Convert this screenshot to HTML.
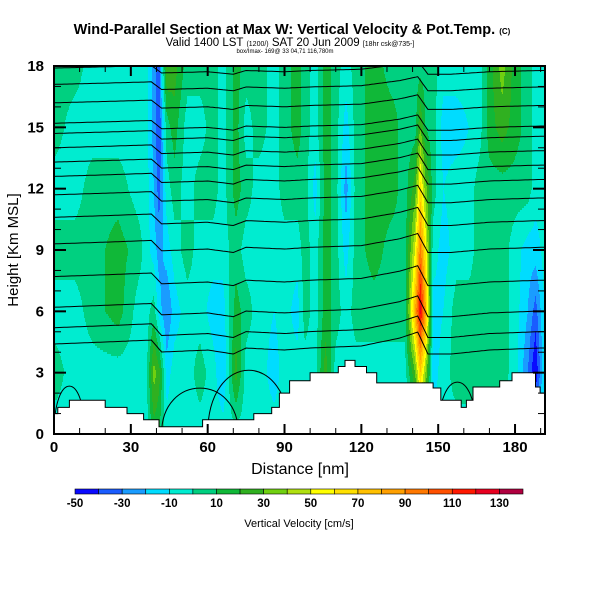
<!DOCTYPE html>
<html><head><meta charset="utf-8"><style>
body{margin:0;background:#fff;width:600px;height:600px;overflow:hidden;font-family:"Liberation Sans",sans-serif}
svg text{font-family:"Liberation Sans",sans-serif}
</style></head><body>
<svg id="c" width="600" height="600" xmlns="http://www.w3.org/2000/svg">
<text x="292" y="34" text-anchor="middle" font-size="14.5" font-weight="bold">Wind-Parallel Section at Max W: Vertical Velocity &amp; Pot.Temp. <tspan font-size="8">(C)</tspan></text>
<text x="290" y="46" text-anchor="middle" font-size="11.5">Valid 1400 LST <tspan font-size="7">(1200/)</tspan> SAT 20 Jun 2009 <tspan font-size="7">[18hr csk@735-]</tspan></text>
<text x="285" y="53" text-anchor="middle" font-size="6">box/Imax- 169@ 33 04,71 116,780m</text>
<defs><clipPath id="pc"><rect x="54" y="66" width="491" height="368"/></clipPath></defs>
<g id="field" clip-path="url(#pc)"></g>
<g id="contours" clip-path="url(#pc)" fill="none" stroke="#000" stroke-width="1"></g>
<g id="terrain" clip-path="url(#pc)"></g>
<g id="axes"></g>
<g id="cbar"></g>
<text x="18" y="250" transform="rotate(-90 18 250)" text-anchor="middle" font-size="15">Height [Km MSL]</text>
<text x="300" y="474" text-anchor="middle" font-size="16">Distance [nm]</text>
<text x="299" y="527" text-anchor="middle" font-size="11">Vertical Velocity [cm/s]</text>
</svg>
<script>
const rowH=[0,3,6,9,12,15,18];
const colX=[0,8,15,25,33,36,39,41,44,47,52,57,62,66,71,75,80,86,90,95,98,102,106,110,114,118,125,132,137,141,143,145,148,152,157,162,166,170,175,180,185,188,192];
const colW=[
[-5,5,-5,5,-5,5,5],[-5,-5,-5,5,-5,-5,5],[-5,-5,5,5,5,-5,-5],[-5,-5,15,15,5,-5,-5],[-5,-5,-5,5,-5,-5,-5],
[-5,-5,-5,-5,-5,-5,-5],[15,35,5,-15,-20,-25,-25],[10,25,-15,-25,-35,-40,-35],[-5,-15,-30,-15,-5,5,30],
[-5,-5,-15,-5,5,15,25],[-5,-5,-5,5,-5,-5,5],[-5,5,-5,-5,5,-5,5],[-5,-5,-15,-5,5,5,5],[-5,-20,-15,-5,-5,-5,-5],
[-5,25,15,5,15,15,15],[-5,-5,5,-5,5,-5,5],[-5,-5,-5,-5,-5,5,5],[-5,-15,-10,-5,-5,-5,-5],[-5,-5,-5,-5,5,5,5],
[-5,-5,-15,-5,5,15,15],[-5,-5,5,5,5,5,5],[-5,-5,-5,-5,-15,-5,-5],[-5,25,15,15,15,15,15],[-5,-5,5,5,5,5,5],
[-5,-5,-5,-15,-25,-15,-5],[-5,-5,5,5,5,5,5],[-5,-5,5,15,15,15,15],[-5,-5,5,5,15,15,5],[-5,-5,5,5,5,5,5],
[-5,30,80,50,25,5,5],[15,70,125,95,65,30,5],[10,40,85,60,35,10,5],[-5,-15,-15,-5,5,5,5],[-5,-5,-10,-15,-10,-15,-5],
[-5,5,5,-5,-5,-15,-5],[-5,5,5,-5,-5,-10,-5],[-5,5,5,5,5,-5,-5],[-5,5,5,5,5,15,15],[-5,5,5,5,5,25,35],
[-5,-5,-5,-5,5,15,15],[-5,-30,-20,-15,5,5,5],[-5,-50,-35,-15,-5,-5,-5],[-5,-5,-5,-5,-5,-5,-5]];
const binColors=["#0a0aff","#1a5cff","#1a9cff","#00dcff","#00ecd0","#00d080","#10b838","#30b020","#70d010","#b0e010","#ffff00","#ffe000","#ffc000","#ffa000","#ff7800","#ff5000","#ff1800","#e80020","#b00040"];
const cbTicks=[-50,-30,-10,10,30,50,70,90,110,130];
const terrX=[0,1.5,6,20,28.5,35,41,58,71,78,85,88,92,100,111,113.6,117.5,122,126,133,145,148,151,159,161,163.6,174,178.8,185,188,189.8,192];
const terrH=[1.0,1.3,1.65,1.3,1.0,0.7,0.35,0.7,0.7,1.0,1.3,2.0,2.6,3.0,3.3,3.6,3.3,3.0,2.5,2.5,2.5,2.25,1.65,1.3,1.65,2.3,2.6,3.0,3.0,2.3,2.0,2.0];
const thetaLevels=[4.4,5.2,6.2,7.7,9.3,10.6,11.7,12.6,13.3,14.0,14.7,15.2,16.2,17.1,17.9];
const dispX=[0,20,38,42,60,70,75,90,100,120,135,142,146,155,170,190];
const dispKm=[0,0.1,0.2,-0.4,-0.3,-0.5,-0.2,-0.3,-0.2,-0.1,0.3,0.6,-0.5,-0.5,-0.3,-0.2];
const domeX0=[0,42,60,150];
const domeX1=[12,72,92,165];
const domeTop=[2.4,2.3,3.2,2.6];

const X0=54,X1=545,Y0=434,Y1=66;
const sx=v=>X0+v*(X1-X0)/191.7;
const sy=h=>Y0-h*(Y0-Y1)/18;
const NS="http://www.w3.org/2000/svg";
function mk(t,a,p){const e=document.createElementNS(NS,t);for(const k in a)e.setAttribute(k,a[k]);p.appendChild(e);return e;}
function interp(xs,ys,x){if(x<=xs[0])return ys[0];for(let i=1;i<xs.length;i++){if(x<=xs[i]){const t=(x-xs[i-1])/(xs[i]-xs[i-1]);return ys[i-1]+t*(ys[i]-ys[i-1]);}}return ys[ys.length-1];}
function wAt(x,h){
  let i=0;while(i<colX.length-2&&x>colX[i+1])i++;
  const t=Math.max(0,Math.min(1,(x-colX[i])/(colX[i+1]-colX[i])));
  const a=interp(rowH,colW[i],h),b=interp(rowH,colW[i+1],h);
  return a+(b-a)*t;
}
function bin(w){let k=Math.floor((w+50)/10);return Math.max(0,Math.min(18,k));}
const field=document.getElementById('field');
for(let py=Y1;py<Y0;py+=2){
  const h=(Y0-(py+1))*18/(Y0-Y1);
  let start=X0,cur=null;
  for(let px=X0;px<=X1;px++){
    const b=px<X1?bin(wAt((px+0.5-X0)*191.7/(X1-X0),h)):-1;
    if(b!==cur){
      if(cur!==null){const r=mk('rect',{x:start,y:py,width:px-start,height:2,fill:binColors[cur]},field);
        
        }
      start=px;cur=b;
    }
  }
}
const cg=document.getElementById('contours');
thetaLevels.forEach((lv,j)=>{
  const f=0.6+0.5*(1-lv/18);
  let d='';
  for(let x=0;x<=192;x+=1){const h=lv+interp(dispX,dispKm,x)*f;d+=(x?'L':'M')+sx(x).toFixed(1)+' '+sy(h).toFixed(1);}
  const p=mk('path',{d:d},cg);
  
  
});
domeX0.forEach((a,i)=>{
  const b=domeX1[i],t=domeTop[i];
  const d='M'+sx(a)+' '+sy(0)+' C'+sx(a)+' '+sy(t*1.3)+' '+sx(b)+' '+sy(t*1.3)+' '+sx(b)+' '+sy(0);
  const p=mk('path',{d:d},cg);
  
  
});
const tg=document.getElementById('terrain');
let td='M'+sx(0)+' '+Y0;
for(let i=0;i<terrX.length;i++){
  const x=sx(terrX[i]),y=sy(terrH[i]);
  if(i>0){td+=' L'+x.toFixed(1)+' '+sy(terrH[i-1]).toFixed(1);}
  td+=' L'+x.toFixed(1)+' '+y.toFixed(1);
}
td+=' L'+X1+' '+sy(terrH[terrH.length-1])+' L'+X1+' '+Y0+'Z';
const tp=mk('path',{d:td,fill:'#fff',stroke:'#000','stroke-width':1},tg);


const ax=document.getElementById('axes');
const fr=mk('rect',{x:X0,y:Y1,width:X1-X0,height:Y0-Y1,fill:'none',stroke:'#000','stroke-width':2},ax);


for(let v=0;v<=190;v+=10){
  const x=sx(v),L=v%30===0?10:6;
  mk('line',{x1:x,y1:Y0,x2:x,y2:Y0-L,stroke:'#000','stroke-width':v%30===0?2:1},ax);
  mk('line',{x1:x,y1:Y1,x2:x,y2:Y1+L,stroke:'#000','stroke-width':v%30===0?2:1},ax);
  if(v%30===0){const t=mk('text',{x:x,y:452,'text-anchor':'middle','font-size':15,'font-weight':'bold'},ax);t.textContent=v;
    
    }
}
for(let h=0;h<=18;h++){
  const y=sy(h),L=h%3===0?12:7;
  mk('line',{x1:X0,y1:y,x2:X0+L,y2:y,stroke:'#000','stroke-width':h%3===0?2:1},ax);
  mk('line',{x1:X1,y1:y,x2:X1-L,y2:y,stroke:'#000','stroke-width':h%3===0?2:1},ax);
  if(h%3===0){const t=mk('text',{x:44,y:y+5,'text-anchor':'end','font-size':15,'font-weight':'bold'},ax);t.textContent=h;
    
    }
}
const cb=document.getElementById('cbar');
const cbx0=75,cbx1=523,bw=(cbx1-cbx0)/binColors.length;
binColors.forEach((c,i)=>{
  const r=mk('rect',{x:cbx0+i*bw,y:489,width:bw,height:5,fill:c,stroke:'#000','stroke-width':0.6},cb);
  
  
});
cbTicks.forEach(v=>{
  const t=mk('text',{x:cbx0+(v+50)/10*bw,y:507,'text-anchor':'middle','font-size':11.5,'font-weight':'bold'},cb);
  t.textContent=v;
  
  
});
</script>
</body></html>
